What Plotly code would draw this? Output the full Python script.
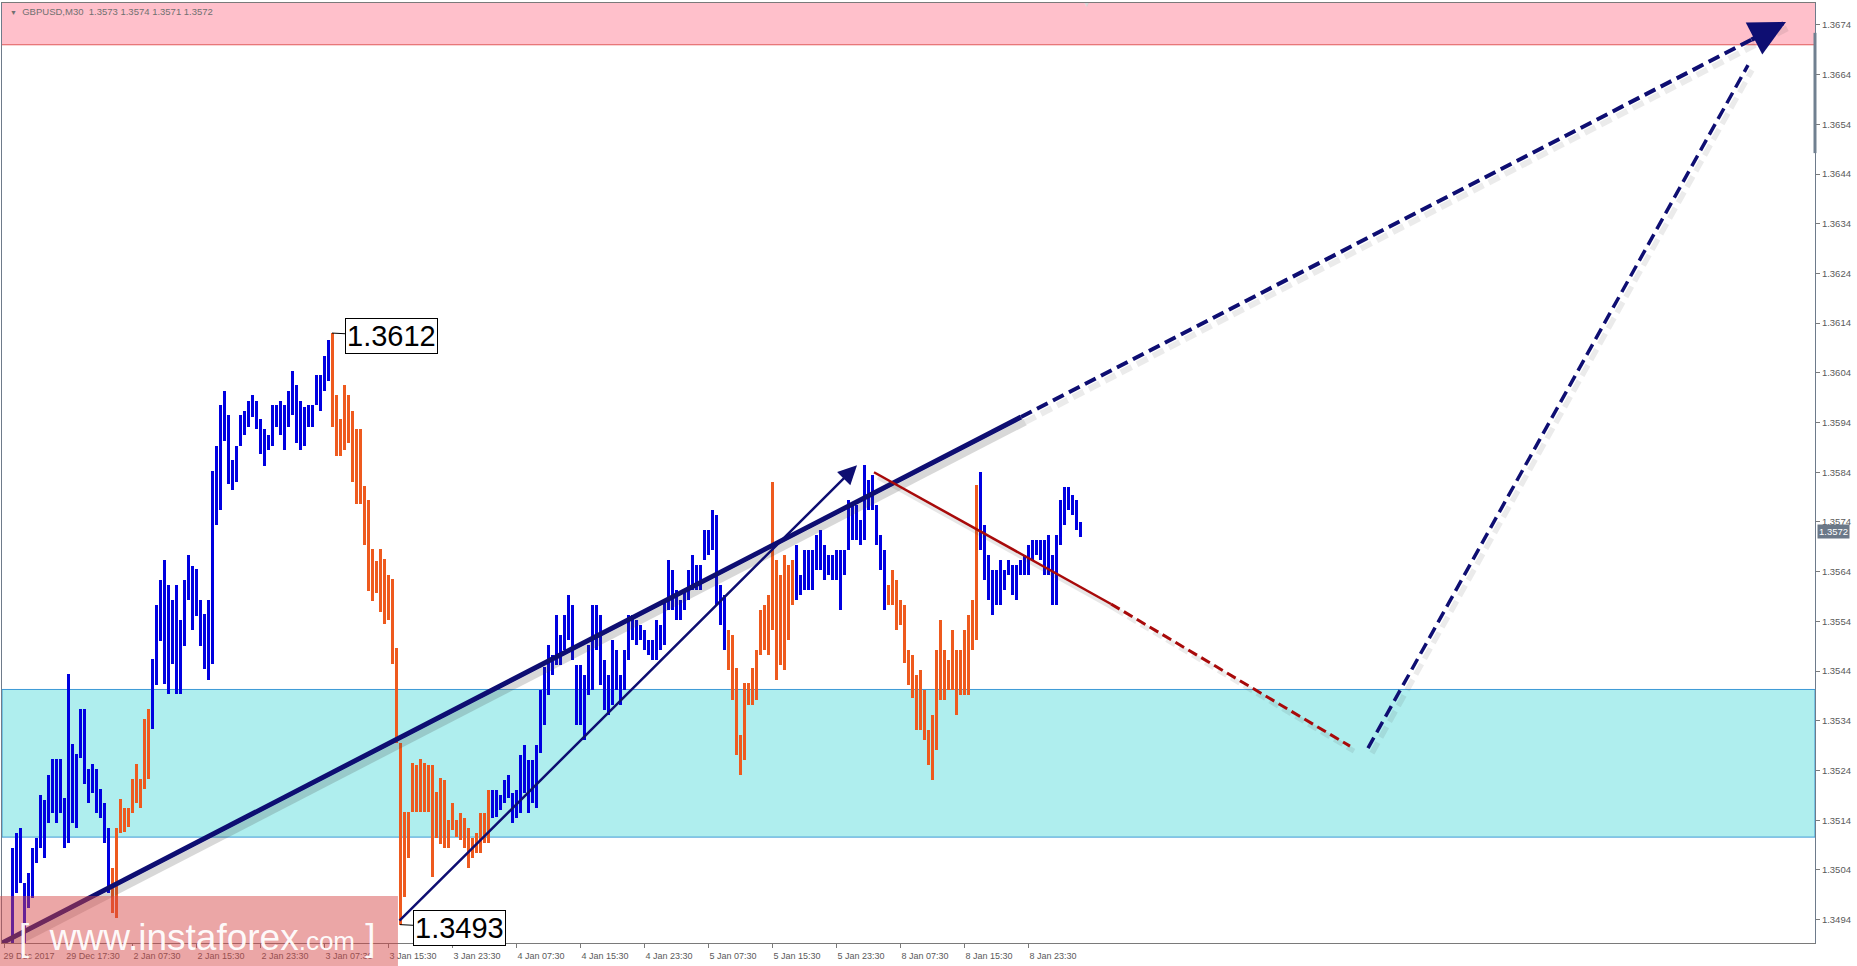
import plotly.graph_objects as go

# ---------------- data ----------------
symbol_line = "GBPUSD,M30"
last_ohlc = ["1.3573", "1.3574", "1.3571", "1.3572"]
last_price = 1.3572

bar_high = [
    1.35084, 1.35114, 1.35124, 1.35013, 1.35034, 1.35084, 1.35104, 1.35190, 1.35180, 1.35231,
    1.35263, 1.35263, 1.35263, 1.35184, 1.35434, 1.35293, 1.35273, 1.35363, 1.35363, 1.35243,
    1.35253, 1.35243, 1.35203, 1.35174, 1.35124, 1.35044, 1.35124, 1.35182, 1.35164, 1.35164,
    1.35223, 1.35253, 1.35223, 1.35343, 1.35363, 1.35464, 1.35573, 1.35623, 1.35663, 1.35613,
    1.35583, 1.35613, 1.35543, 1.35623, 1.35673, 1.35651, 1.35645, 1.35583, 1.35555, 1.35583,
    1.35842, 1.35893, 1.35975, 1.36003, 1.35955, 1.35864, 1.35893, 1.35955, 1.35963, 1.35983,
    1.35995, 1.35983, 1.35947, 1.35927, 1.35915, 1.35975, 1.35975, 1.35983, 1.35975, 1.36003,
    1.36044, 1.36015, 1.35983, 1.35971, 1.35975, 1.35975, 1.36035, 1.36035, 1.36074, 1.36106,
    1.36120, 1.35995, 1.35947, 1.36015, 1.35995, 1.35963, 1.35927, 1.35927, 1.35812, 1.35784,
    1.35685, 1.35661, 1.35685, 1.35665, 1.35633, 1.35625, 1.35486, 1.35295, 1.35156, 1.35156,
    1.35255, 1.35251, 1.35263, 1.35255, 1.35251, 1.35251, 1.35196, 1.35225, 1.35221, 1.35140,
    1.35174, 1.35140, 1.35154, 1.35144, 1.35124, 1.35104, 1.35114, 1.35154, 1.35154, 1.35201,
    1.35201, 1.35201, 1.35190, 1.35221, 1.35231, 1.35194, 1.35201, 1.35271, 1.35291, 1.35261,
    1.35261, 1.35291, 1.35402, 1.35448, 1.35492, 1.35472, 1.35553, 1.35512, 1.35553, 1.35593,
    1.35573, 1.35452, 1.35452, 1.35432, 1.35492, 1.35573, 1.35573, 1.35553, 1.35462, 1.35432,
    1.35502, 1.35482, 1.35432, 1.35482, 1.35553, 1.35553, 1.35543, 1.35532, 1.35522, 1.35502,
    1.35502, 1.35543, 1.35532, 1.35583, 1.35663, 1.35643, 1.35603, 1.35583, 1.35603, 1.35643,
    1.35673, 1.35653, 1.35653, 1.35724, 1.35724, 1.35764, 1.35754, 1.35613, 1.35593, 1.35522,
    1.35512, 1.35446, 1.35311, 1.35416, 1.35416, 1.35446, 1.35482, 1.35563, 1.35573, 1.35593,
    1.35820, 1.35663, 1.35633, 1.35673, 1.35653, 1.35663, 1.35693, 1.35633, 1.35683, 1.35683,
    1.35683, 1.35714, 1.35724, 1.35693, 1.35673, 1.35673, 1.35683, 1.35683, 1.35683, 1.35784,
    1.35774, 1.35774, 1.35744, 1.35854, 1.35824, 1.35834, 1.35774, 1.35714, 1.35683, 1.35613,
    1.35643, 1.35623, 1.35583, 1.35573, 1.35482, 1.35472, 1.35432, 1.35442, 1.35402, 1.35321,
    1.35351, 1.35482, 1.35543, 1.35482, 1.35462, 1.35522, 1.35482, 1.35482, 1.35522, 1.35553,
    1.35583, 1.35814, 1.35840, 1.35734, 1.35673, 1.35643, 1.35643, 1.35663, 1.35643, 1.35663,
    1.35653, 1.35653, 1.35663, 1.35673, 1.35693, 1.35704, 1.35704, 1.35704, 1.35704, 1.35714,
    1.35673, 1.35714, 1.35784, 1.35810, 1.35810, 1.35794, 1.35784, 1.35740,
]
bar_low = [
    1.34890, 1.34993, 1.35013, 1.34890, 1.34963, 1.34983, 1.35054, 1.35084, 1.35064, 1.35134,
    1.35154, 1.35134, 1.35154, 1.35084, 1.35094, 1.35134, 1.35124, 1.35265, 1.35213, 1.35174,
    1.35194, 1.35154, 1.35144, 1.35094, 1.34993, 1.34953, 1.34943, 1.35114, 1.35116, 1.35126,
    1.35154, 1.35174, 1.35164, 1.35203, 1.35223, 1.35323, 1.35412, 1.35500, 1.35414, 1.35394,
    1.35454, 1.35394, 1.35394, 1.35490, 1.35583, 1.35522, 1.35551, 1.35490, 1.35444, 1.35422,
    1.35454, 1.35734, 1.35764, 1.35903, 1.35816, 1.35804, 1.35820, 1.35893, 1.35915, 1.35931,
    1.35951, 1.35927, 1.35877, 1.35852, 1.35885, 1.35893, 1.35931, 1.35915, 1.35885, 1.35931,
    1.35955, 1.35899, 1.35885, 1.35893, 1.35931, 1.35931, 1.35975, 1.35963, 1.36003, 1.36023,
    1.35931, 1.35873, 1.35873, 1.35885, 1.35899, 1.35820, 1.35776, 1.35776, 1.35693, 1.35601,
    1.35581, 1.35597, 1.35559, 1.35535, 1.35543, 1.35454, 1.35295, 1.34930, 1.34985, 1.35064,
    1.35156, 1.35156, 1.35156, 1.35156, 1.35156, 1.35025, 1.35104, 1.35092, 1.35084, 1.35084,
    1.35120, 1.35106, 1.35100, 1.35084, 1.35044, 1.35064, 1.35074, 1.35074, 1.35094, 1.35094,
    1.35144, 1.35146, 1.35160, 1.35174, 1.35184, 1.35134, 1.35144, 1.35154, 1.35194, 1.35154,
    1.35174, 1.35164, 1.35275, 1.35331, 1.35392, 1.35432, 1.35452, 1.35452, 1.35482, 1.35502,
    1.35462, 1.35331, 1.35331, 1.35301, 1.35392, 1.35402, 1.35482, 1.35412, 1.35361, 1.35351,
    1.35372, 1.35402, 1.35372, 1.35402, 1.35462, 1.35502, 1.35492, 1.35502, 1.35482, 1.35472,
    1.35462, 1.35462, 1.35482, 1.35492, 1.35563, 1.35563, 1.35543, 1.35543, 1.35563, 1.35583,
    1.35603, 1.35603, 1.35603, 1.35663, 1.35673, 1.35683, 1.35573, 1.35532, 1.35482, 1.35442,
    1.35382, 1.35271, 1.35231, 1.35261, 1.35372, 1.35372, 1.35382, 1.35472, 1.35482, 1.35472,
    1.35522, 1.35422, 1.35452, 1.35442, 1.35502, 1.35573, 1.35583, 1.35593, 1.35603, 1.35603,
    1.35603, 1.35643, 1.35643, 1.35623, 1.35633, 1.35623, 1.35623, 1.35563, 1.35633, 1.35683,
    1.35704, 1.35704, 1.35693, 1.35704, 1.35764, 1.35764, 1.35693, 1.35643, 1.35563, 1.35573,
    1.35573, 1.35522, 1.35532, 1.35456, 1.35412, 1.35386, 1.35321, 1.35321, 1.35301, 1.35251,
    1.35221, 1.35281, 1.35382, 1.35382, 1.35402, 1.35402, 1.35351, 1.35392, 1.35392, 1.35392,
    1.35482, 1.35502, 1.35683, 1.35623, 1.35583, 1.35553, 1.35573, 1.35573, 1.35603, 1.35633,
    1.35593, 1.35583, 1.35633, 1.35633, 1.35633, 1.35663, 1.35673, 1.35663, 1.35633, 1.35633,
    1.35573, 1.35573, 1.35693, 1.35734, 1.35764, 1.35754, 1.35724, 1.35710,
]

# colour runs of the bars (index where each wave starts, direction)
wave_starts = [0, 25, 35, 80, 120, 179, 196, 219, 242]
wave_dirs = ["up", "down", "up", "down", "up", "down", "up", "down", "up"]

time_labels = ["29 Dec 2017", "29 Dec 17:30", "2 Jan 07:30", "2 Jan 15:30", "2 Jan 23:30",
               "3 Jan 07:30", "3 Jan 15:30", "3 Jan 23:30", "4 Jan 07:30", "4 Jan 15:30",
               "4 Jan 23:30", "5 Jan 07:30", "5 Jan 15:30", "5 Jan 23:30", "8 Jan 07:30",
               "8 Jan 15:30", "8 Jan 23:30"]
bars_per_label = 16
first_label_bar = -2

price_tick_labels = ["1.3494", "1.3504", "1.3514", "1.3524", "1.3534", "1.3544", "1.3554",
                     "1.3564", "1.3574", "1.3584", "1.3594", "1.3604", "1.3614", "1.3624",
                     "1.3634", "1.3644", "1.3654", "1.3664", "1.3674"]

price_range = [1.34893, 1.36784]
bar_range = [-2.5, 450.75]

resistance_zone = [1.3670, 1.36784]
support_zone = [1.35106, 1.35403]

# analyst wave marks (bar index, price)
main_trend = [(-2.5, 1.34893), (252.25, 1.35951)]
main_target = [(252.25, 1.35951), (443.5, 1.36746)]
thin_wave = [(96.5, 1.34935), (211.25, 1.35854)]
red_wave = [(215.5, 1.35840), (274.75, 1.35575)]
red_target = [(274.75, 1.35575), (334.5, 1.35289)]
up_target = [(339.0, 1.35285), (434.0, 1.36659)]

extreme_high = (80, "1.3612")
extreme_low = (97, "1.3493")

# ---------------- styling ----------------
BLUE = "#0000E0"
ORANGE = "#EE5A1E"
NAVY = "#0E0E72"
RED = "#A80A0A"
FONT = "Liberation Sans, Arial, sans-serif"
AXIS_GREY = "#5A5A5A"

colors = []
for i in range(len(bar_high)):
    d = "up"
    for s, dd in zip(wave_starts, wave_dirs):
        if i >= s:
            d = dd
    colors.append(BLUE if d == "up" else ORANGE)

idx = list(range(len(bar_high)))
fig = go.Figure()

fig.add_trace(go.Bar(
    x=idx, base=bar_low, y=[h - l for h, l in zip(bar_high, bar_low)],
    width=0.75, marker=dict(color=colors, line=dict(width=0)), hoverinfo="skip",
))


def seg(points, color, width, dash="solid", shadow=0.16):
    xs = [p[0] for p in points]
    ys = [p[1] for p in points]
    if shadow:
        fig.add_trace(go.Scatter(x=[x + 1.0 for x in xs], y=[y - 0.00010 for y in ys],
                                 mode="lines",
                                 line=dict(color=f"rgba(60,60,60,{shadow})", width=width + 2, dash=dash),
                                 hoverinfo="skip"))
    fig.add_trace(go.Scatter(x=xs, y=ys, mode="lines",
                             line=dict(color=color, width=width, dash=dash), hoverinfo="skip"))


seg(main_trend, NAVY, 5, shadow=0.2)
seg(main_target, NAVY, 4, dash="12px,6px", shadow=0.1)
seg(red_wave, RED, 2.5, shadow=0.12)
seg(red_target, RED, 3, dash="10px,5px", shadow=0.1)
seg(up_target, NAVY, 3.5, dash="12px,6px", shadow=0.1)

fig.update_layout(
    width=1857, height=966,
    margin=dict(l=2, r=42, t=3, b=23),
    paper_bgcolor="white", plot_bgcolor="white",
    showlegend=False, bargap=0,
    font=dict(family=FONT, size=9.5, color=AXIS_GREY),
)

fig.update_xaxes(
    range=bar_range, showgrid=False, zeroline=False,
    showline=True, linecolor="#7A7A7A", linewidth=1, mirror=True,
    tickvals=[first_label_bar + bars_per_label * i for i in range(len(time_labels))],
    ticktext=time_labels, ticks="outside", ticklen=4, tickcolor="#7A7A7A",
    ticklabelshift=25, tickfont=dict(size=9, color=AXIS_GREY, family=FONT),
)
fig.update_yaxes(
    range=price_range, side="right", showgrid=False, zeroline=False,
    showline=True, linecolor="#6E7B8B", linewidth=1, mirror=True,
    tickvals=[float(v) for v in price_tick_labels], ticktext=price_tick_labels,
    ticks="outside", ticklen=4, tickcolor="#7A7A7A",
    tickfont=dict(size=9.5, color=AXIS_GREY, family=FONT),
)

shapes = [
    dict(type="rect", xref="paper", yref="y", x0=0, x1=1, y0=resistance_zone[0], y1=resistance_zone[1],
         fillcolor="#FFC0CB", line=dict(width=0), layer="below"),
    dict(type="line", xref="paper", yref="y", x0=0, x1=1, y0=resistance_zone[0], y1=resistance_zone[0],
         line=dict(color="#E05A5A", width=1), layer="below"),
    dict(type="rect", xref="paper", yref="y", x0=0, x1=1, y0=support_zone[0], y1=support_zone[1],
         fillcolor="#AFEEEE", line=dict(color="#3C9AD6", width=1), layer="below"),
    # scroll marker on the price scale
    dict(type="line", xref="paper", yref="y", x0=1, x1=1, y0=1.36482, y1=1.36724,
         line=dict(color="#708090", width=3)),
    # watermark band
    dict(type="rect", xref="paper", yref="paper", x0=-0.002, x1=0.2184, y0=-0.0245, y1=0.05,
         fillcolor="rgba(214,70,70,0.48)", line=dict(width=0), layer="above"),
]
fig.update_layout(shapes=shapes)

annotations = [
    dict(xref="paper", yref="paper", x=0.0033, y=0.9905, xanchor="left", yanchor="middle",
         showarrow=False,
         text="<span style='font-size:7px'>▼</span>&nbsp;&nbsp;" + symbol_line + "&nbsp;&nbsp;" + "&nbsp;".join(last_ohlc),
         font=dict(size=9.5, color="#707070", family=FONT)),
    dict(xref="paper", yref="paper", x=0.598, y=0.998, xanchor="center", yanchor="middle",
         showarrow=False, text="▼", font=dict(size=7, color="#D8D8D8")),
    dict(xref="paper", yref="y", x=1, y=last_price, xanchor="left", yanchor="middle", xshift=2,
         showarrow=False, text=f"{last_price:.4f}", bgcolor="#6B7888", borderpad=1,
         font=dict(size=9.5, color="white", family=FONT)),
    # thin wave arrow
    dict(x=thin_wave[1][0], y=thin_wave[1][1], ax=thin_wave[0][0], ay=thin_wave[0][1],
         xref="x", yref="y", axref="x", ayref="y", text="", showarrow=True,
         arrowhead=2, arrowsize=1.5, arrowwidth=2.5, arrowcolor=NAVY, standoff=0),
    # big target arrowhead
    dict(x=main_target[1][0], y=main_target[1][1],
         ax=main_target[1][0] - 9, ay=main_target[1][1] - 9 * (main_target[1][1] - main_target[0][1]) / (main_target[1][0] - main_target[0][0]),
         xref="x", yref="y", axref="x", ayref="y", text="", showarrow=True,
         arrowhead=2, arrowsize=1.6, arrowwidth=4.5, arrowcolor=NAVY, standoff=0),
    # extreme labels
    dict(x=extreme_high[0], y=float(extreme_high[1]), xref="x", yref="y", text=extreme_high[1],
         showarrow=True, arrowhead=0, arrowwidth=1, arrowcolor="black", ax=59, ay=3,
         bgcolor="white", bordercolor="black", borderwidth=1, borderpad=1,
         font=dict(size=29, color="black", family=FONT)),
    dict(x=extreme_low[0], y=float(extreme_low[1]), xref="x", yref="y", text=extreme_low[1],
         showarrow=True, arrowhead=0, arrowwidth=1, arrowcolor="black", ax=59, ay=3,
         bgcolor="white", bordercolor="black", borderwidth=1, borderpad=1,
         font=dict(size=29, color="black", family=FONT)),
    # watermark text
    dict(xref="paper", yref="paper", x=0.1076, y=0.006, xanchor="center", yanchor="middle",
         showarrow=False,
         text="[ &nbsp;www.instaforex<span style='font-size:26px'>.com</span> ]",
         font=dict(size=37, color="rgba(255,255,255,0.95)", family=FONT)),
]
fig.update_layout(annotations=annotations)

fig.write_html("out.html", config={"displayModeBar": False},
               post_script="document.body.style.margin='0';document.body.style.overflow='hidden';")
